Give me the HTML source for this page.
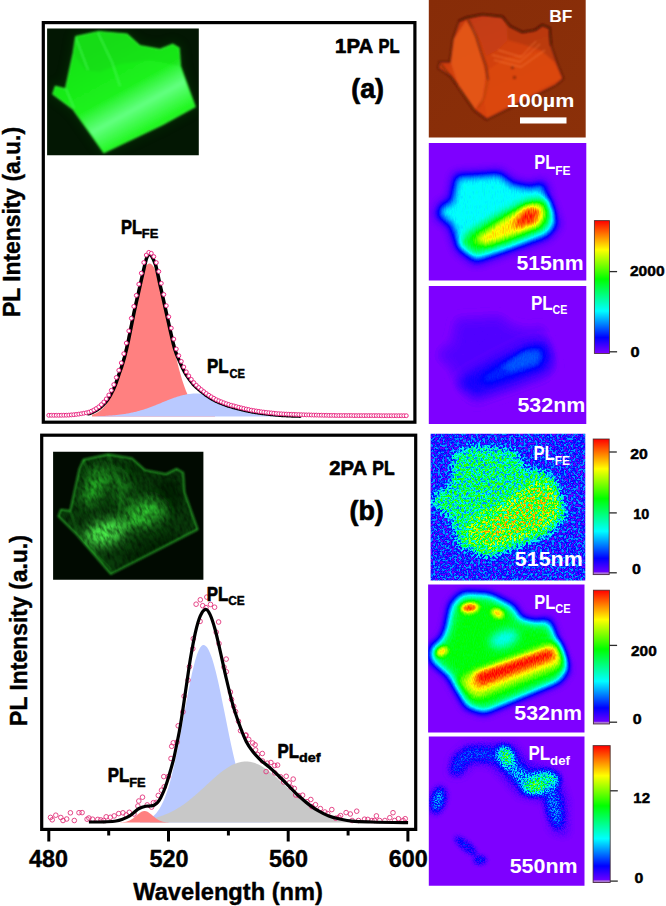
<!DOCTYPE html>
<html><head><meta charset="utf-8"><title>PL figure</title>
<style>html,body{margin:0;padding:0;background:#fff;}body{width:666px;height:906px;overflow:hidden;font-family:"Liberation Sans",sans-serif;}svg{display:block;}</style>
</head><body>
<svg width="666" height="906" viewBox="0 0 666 906" font-family="Liberation Sans, sans-serif">
<rect x="0" y="0" width="666" height="906" fill="#fff"/>
<defs><filter id="pb1_5" x="-50%" y="-50%" width="200%" height="200%" color-interpolation-filters="sRGB"><feGaussianBlur stdDeviation="1.5"/></filter>
<filter id="pb2" x="-50%" y="-50%" width="200%" height="200%" color-interpolation-filters="sRGB"><feGaussianBlur stdDeviation="2"/></filter>
<filter id="pb2_5" x="-50%" y="-50%" width="200%" height="200%" color-interpolation-filters="sRGB"><feGaussianBlur stdDeviation="2.5"/></filter>
<filter id="pb3" x="-50%" y="-50%" width="200%" height="200%" color-interpolation-filters="sRGB"><feGaussianBlur stdDeviation="3"/></filter>
<filter id="pb3_5" x="-50%" y="-50%" width="200%" height="200%" color-interpolation-filters="sRGB"><feGaussianBlur stdDeviation="3.5"/></filter>
<filter id="pb4" x="-50%" y="-50%" width="200%" height="200%" color-interpolation-filters="sRGB"><feGaussianBlur stdDeviation="4"/></filter>
<filter id="pb5" x="-50%" y="-50%" width="200%" height="200%" color-interpolation-filters="sRGB"><feGaussianBlur stdDeviation="5"/></filter>
<filter id="pb6" x="-50%" y="-50%" width="200%" height="200%" color-interpolation-filters="sRGB"><feGaussianBlur stdDeviation="6"/></filter>
<filter id="pb8" x="-50%" y="-50%" width="200%" height="200%" color-interpolation-filters="sRGB"><feGaussianBlur stdDeviation="8"/></filter>
<clipPath id="cp2"><rect x="428.8" y="143" width="157.5" height="137.5"/></clipPath>
<filter id="hf2" filterUnits="userSpaceOnUse" x="398.8" y="113" width="217.5" height="197.5" color-interpolation-filters="sRGB"><feGaussianBlur in="SourceGraphic" stdDeviation="0.6" result="b"/><feTurbulence type="fractalNoise" baseFrequency="0.9 0.2" numOctaves="1" seed="4" result="t"/><feColorMatrix in="t" type="matrix" values="1 0 0 0 0  1 0 0 0 0  1 0 0 0 0  0 0 0 0 1" result="g"/><feComponentTransfer in="g" result="n"><feFuncR type="linear" slope="2.0" intercept="-0.5"/><feFuncG type="linear" slope="2.0" intercept="-0.5"/><feFuncB type="linear" slope="2.0" intercept="-0.5"/></feComponentTransfer><feComposite in="b" in2="n" operator="arithmetic" k1="0.09" k2="0.955" k3="0" k4="0" result="c"/><feComponentTransfer><feFuncR type="table" tableValues="0.498 0.415 0.332 0.249 0.166 0.083 0.000 0.000 0.000 0.000 0.000 0.000 0.000 0.000 0.000 0.000 0.000 0.000 0.000 0.000 0.000 0.000 0.000 0.000 0.000 0.000 0.000 0.000 0.000 0.091 0.182 0.273 0.364 0.455 0.545 0.636 0.727 0.818 0.909 1.000 1.000 1.000 1.000 1.000 1.000 1.000 1.000 1.000 1.000 1.000 1.000"/><feFuncG type="table" tableValues="0.000 0.000 0.000 0.000 0.000 0.000 0.000 0.100 0.200 0.300 0.400 0.500 0.600 0.700 0.800 0.900 1.000 1.000 1.000 1.000 1.000 1.000 1.000 1.000 1.000 1.000 1.000 1.000 1.000 1.000 1.000 1.000 1.000 1.000 1.000 1.000 1.000 1.000 1.000 1.000 0.909 0.818 0.727 0.636 0.545 0.455 0.364 0.273 0.182 0.091 0.000"/><feFuncB type="table" tableValues="1.000 1.000 1.000 1.000 1.000 1.000 1.000 1.000 1.000 1.000 1.000 1.000 1.000 1.000 1.000 1.000 1.000 0.917 0.833 0.750 0.667 0.583 0.500 0.417 0.333 0.250 0.167 0.083 0.000 0.000 0.000 0.000 0.000 0.000 0.000 0.000 0.000 0.000 0.000 0.000 0.000 0.000 0.000 0.000 0.000 0.000 0.000 0.000 0.000 0.000 0.000"/></feComponentTransfer></filter>
<clipPath id="cp3"><rect x="428.8" y="286" width="157.5" height="138.1"/></clipPath>
<filter id="hf3" filterUnits="userSpaceOnUse" x="398.8" y="256" width="217.5" height="198.1" color-interpolation-filters="sRGB"><feGaussianBlur in="SourceGraphic" stdDeviation="0.6" result="b"/><feTurbulence type="fractalNoise" baseFrequency="0.9 0.3" numOctaves="1" seed="14" result="t"/><feColorMatrix in="t" type="matrix" values="1 0 0 0 0  1 0 0 0 0  1 0 0 0 0  0 0 0 0 1" result="g"/><feComponentTransfer in="g" result="n"><feFuncR type="linear" slope="2.0" intercept="-0.5"/><feFuncG type="linear" slope="2.0" intercept="-0.5"/><feFuncB type="linear" slope="2.0" intercept="-0.5"/></feComponentTransfer><feComposite in="b" in2="n" operator="arithmetic" k1="0.1" k2="0.95" k3="0" k4="0" result="c"/><feComponentTransfer><feFuncR type="table" tableValues="0.498 0.415 0.332 0.249 0.166 0.083 0.000 0.000 0.000 0.000 0.000 0.000 0.000 0.000 0.000 0.000 0.000 0.000 0.000 0.000 0.000 0.000 0.000 0.000 0.000 0.000 0.000 0.000 0.000 0.091 0.182 0.273 0.364 0.455 0.545 0.636 0.727 0.818 0.909 1.000 1.000 1.000 1.000 1.000 1.000 1.000 1.000 1.000 1.000 1.000 1.000"/><feFuncG type="table" tableValues="0.000 0.000 0.000 0.000 0.000 0.000 0.000 0.100 0.200 0.300 0.400 0.500 0.600 0.700 0.800 0.900 1.000 1.000 1.000 1.000 1.000 1.000 1.000 1.000 1.000 1.000 1.000 1.000 1.000 1.000 1.000 1.000 1.000 1.000 1.000 1.000 1.000 1.000 1.000 1.000 0.909 0.818 0.727 0.636 0.545 0.455 0.364 0.273 0.182 0.091 0.000"/><feFuncB type="table" tableValues="1.000 1.000 1.000 1.000 1.000 1.000 1.000 1.000 1.000 1.000 1.000 1.000 1.000 1.000 1.000 1.000 1.000 0.917 0.833 0.750 0.667 0.583 0.500 0.417 0.333 0.250 0.167 0.083 0.000 0.000 0.000 0.000 0.000 0.000 0.000 0.000 0.000 0.000 0.000 0.000 0.000 0.000 0.000 0.000 0.000 0.000 0.000 0.000 0.000 0.000 0.000"/></feComponentTransfer></filter>
<clipPath id="cp4"><rect x="430.6" y="433.8" width="154.7" height="146.8"/></clipPath>
<filter id="hf4" filterUnits="userSpaceOnUse" x="400.6" y="403.8" width="214.7" height="206.8" color-interpolation-filters="sRGB"><feGaussianBlur in="SourceGraphic" stdDeviation="0.5" result="b"/><feTurbulence type="fractalNoise" baseFrequency="0.42" numOctaves="2" seed="9" result="t"/><feColorMatrix in="t" type="matrix" values="1 0 0 0 0  1 0 0 0 0  1 0 0 0 0  0 0 0 0 1" result="g"/><feComponentTransfer in="g" result="n"><feFuncR type="linear" slope="3.4" intercept="-1.2"/><feFuncG type="linear" slope="3.4" intercept="-1.2"/><feFuncB type="linear" slope="3.4" intercept="-1.2"/></feComponentTransfer><feComposite in="b" in2="n" operator="arithmetic" k1="0.58" k2="0.76" k3="0.15" k4="-0.075" result="c"/><feGaussianBlur in="c" stdDeviation="0.4"/><feComponentTransfer><feFuncR type="table" tableValues="0.498 0.415 0.332 0.249 0.166 0.083 0.000 0.000 0.000 0.000 0.000 0.000 0.000 0.000 0.000 0.000 0.000 0.000 0.000 0.000 0.000 0.000 0.000 0.000 0.000 0.000 0.000 0.000 0.000 0.091 0.182 0.273 0.364 0.455 0.545 0.636 0.727 0.818 0.909 1.000 1.000 1.000 1.000 1.000 1.000 1.000 1.000 1.000 1.000 1.000 1.000"/><feFuncG type="table" tableValues="0.000 0.000 0.000 0.000 0.000 0.000 0.000 0.100 0.200 0.300 0.400 0.500 0.600 0.700 0.800 0.900 1.000 1.000 1.000 1.000 1.000 1.000 1.000 1.000 1.000 1.000 1.000 1.000 1.000 1.000 1.000 1.000 1.000 1.000 1.000 1.000 1.000 1.000 1.000 1.000 0.909 0.818 0.727 0.636 0.545 0.455 0.364 0.273 0.182 0.091 0.000"/><feFuncB type="table" tableValues="1.000 1.000 1.000 1.000 1.000 1.000 1.000 1.000 1.000 1.000 1.000 1.000 1.000 1.000 1.000 1.000 1.000 0.917 0.833 0.750 0.667 0.583 0.500 0.417 0.333 0.250 0.167 0.083 0.000 0.000 0.000 0.000 0.000 0.000 0.000 0.000 0.000 0.000 0.000 0.000 0.000 0.000 0.000 0.000 0.000 0.000 0.000 0.000 0.000 0.000 0.000"/></feComponentTransfer></filter>
<clipPath id="cp5"><rect x="428.1" y="584.6" width="156.4" height="147.8"/></clipPath>
<filter id="hf5" filterUnits="userSpaceOnUse" x="398.1" y="554.6" width="216.4" height="207.8" color-interpolation-filters="sRGB"><feGaussianBlur in="SourceGraphic" stdDeviation="0.6" result="b"/><feTurbulence type="fractalNoise" baseFrequency="0.9 0.35" numOctaves="1" seed="5" result="t"/><feColorMatrix in="t" type="matrix" values="1 0 0 0 0  1 0 0 0 0  1 0 0 0 0  0 0 0 0 1" result="g"/><feComponentTransfer in="g" result="n"><feFuncR type="linear" slope="2.0" intercept="-0.5"/><feFuncG type="linear" slope="2.0" intercept="-0.5"/><feFuncB type="linear" slope="2.0" intercept="-0.5"/></feComponentTransfer><feComposite in="b" in2="n" operator="arithmetic" k1="0.08" k2="0.96" k3="0" k4="0" result="c"/><feComponentTransfer><feFuncR type="table" tableValues="0.498 0.415 0.332 0.249 0.166 0.083 0.000 0.000 0.000 0.000 0.000 0.000 0.000 0.000 0.000 0.000 0.000 0.000 0.000 0.000 0.000 0.000 0.000 0.000 0.000 0.000 0.000 0.000 0.000 0.091 0.182 0.273 0.364 0.455 0.545 0.636 0.727 0.818 0.909 1.000 1.000 1.000 1.000 1.000 1.000 1.000 1.000 1.000 1.000 1.000 1.000"/><feFuncG type="table" tableValues="0.000 0.000 0.000 0.000 0.000 0.000 0.000 0.100 0.200 0.300 0.400 0.500 0.600 0.700 0.800 0.900 1.000 1.000 1.000 1.000 1.000 1.000 1.000 1.000 1.000 1.000 1.000 1.000 1.000 1.000 1.000 1.000 1.000 1.000 1.000 1.000 1.000 1.000 1.000 1.000 0.909 0.818 0.727 0.636 0.545 0.455 0.364 0.273 0.182 0.091 0.000"/><feFuncB type="table" tableValues="1.000 1.000 1.000 1.000 1.000 1.000 1.000 1.000 1.000 1.000 1.000 1.000 1.000 1.000 1.000 1.000 1.000 0.917 0.833 0.750 0.667 0.583 0.500 0.417 0.333 0.250 0.167 0.083 0.000 0.000 0.000 0.000 0.000 0.000 0.000 0.000 0.000 0.000 0.000 0.000 0.000 0.000 0.000 0.000 0.000 0.000 0.000 0.000 0.000 0.000 0.000"/></feComponentTransfer></filter>
<clipPath id="cp6"><rect x="428.8" y="736.4" width="155.7" height="149.3"/></clipPath>
<filter id="hf6" filterUnits="userSpaceOnUse" x="398.8" y="706.4" width="215.7" height="209.3" color-interpolation-filters="sRGB"><feGaussianBlur in="SourceGraphic" stdDeviation="0.4" result="b"/><feTurbulence type="fractalNoise" baseFrequency="0.7" numOctaves="2" seed="21" result="t"/><feColorMatrix in="t" type="matrix" values="1 0 0 0 0  1 0 0 0 0  1 0 0 0 0  0 0 0 0 1" result="g"/><feComponentTransfer in="g" result="n"><feFuncR type="linear" slope="3.4" intercept="-1.2"/><feFuncG type="linear" slope="3.4" intercept="-1.2"/><feFuncB type="linear" slope="3.4" intercept="-1.2"/></feComponentTransfer><feComposite in="b" in2="n" operator="arithmetic" k1="0.9" k2="0.55" k3="0" k4="0" result="c"/><feGaussianBlur in="c" stdDeviation="0.45"/><feComponentTransfer><feFuncR type="table" tableValues="0.498 0.415 0.332 0.249 0.166 0.083 0.000 0.000 0.000 0.000 0.000 0.000 0.000 0.000 0.000 0.000 0.000 0.000 0.000 0.000 0.000 0.000 0.000 0.000 0.000 0.000 0.000 0.000 0.000 0.091 0.182 0.273 0.364 0.455 0.545 0.636 0.727 0.818 0.909 1.000 1.000 1.000 1.000 1.000 1.000 1.000 1.000 1.000 1.000 1.000 1.000"/><feFuncG type="table" tableValues="0.000 0.000 0.000 0.000 0.000 0.000 0.000 0.100 0.200 0.300 0.400 0.500 0.600 0.700 0.800 0.900 1.000 1.000 1.000 1.000 1.000 1.000 1.000 1.000 1.000 1.000 1.000 1.000 1.000 1.000 1.000 1.000 1.000 1.000 1.000 1.000 1.000 1.000 1.000 1.000 0.909 0.818 0.727 0.636 0.545 0.455 0.364 0.273 0.182 0.091 0.000"/><feFuncB type="table" tableValues="1.000 1.000 1.000 1.000 1.000 1.000 1.000 1.000 1.000 1.000 1.000 1.000 1.000 1.000 1.000 1.000 1.000 0.917 0.833 0.750 0.667 0.583 0.500 0.417 0.333 0.250 0.167 0.083 0.000 0.000 0.000 0.000 0.000 0.000 0.000 0.000 0.000 0.000 0.000 0.000 0.000 0.000 0.000 0.000 0.000 0.000 0.000 0.000 0.000 0.000 0.000"/></feComponentTransfer></filter>
<linearGradient id="rb" x1="0" y1="1" x2="0" y2="0"><stop offset="0.0" stop-color="rgb(127,0,255)"/><stop offset="0.12" stop-color="rgb(0,0,255)"/><stop offset="0.32" stop-color="rgb(0,255,255)"/><stop offset="0.56" stop-color="rgb(0,255,0)"/><stop offset="0.78" stop-color="rgb(255,255,0)"/><stop offset="1.0" stop-color="rgb(255,0,0)"/></linearGradient><clipPath id="cpBF"><rect x="428.8" y="0" width="156.9" height="137.6"/></clipPath>
<filter id="blBF" x="-10%" y="-10%" width="120%" height="120%"><feGaussianBlur stdDeviation="0.9"/></filter>
<filter id="blBF2" x="-20%" y="-20%" width="140%" height="140%"><feGaussianBlur stdDeviation="2.2"/></filter>
<linearGradient id="gBFbg" x1="0" y1="0" x2="1" y2="1"><stop offset="0" stop-color="#872c08"/><stop offset="1" stop-color="#8b3009"/></linearGradient>
<linearGradient id="gBFc" x1="0.1" y1="0" x2="0.6" y2="1"><stop offset="0" stop-color="#c43a10"/><stop offset="0.5" stop-color="#d24010"/><stop offset="1" stop-color="#d84410"/></linearGradient>
<clipPath id="cpIA"><rect x="47.1" y="28.4" width="151.7" height="126.9"/></clipPath>
<filter id="blG" x="-10%" y="-10%" width="120%" height="120%"><feGaussianBlur stdDeviation="0.8"/></filter>
<filter id="blG2" x="-30%" y="-30%" width="160%" height="160%"><feGaussianBlur stdDeviation="5"/></filter>
<linearGradient id="gIA" gradientUnits="userSpaceOnUse" x1="95" y1="50" x2="150" y2="150"><stop offset="0" stop-color="#14e414"/><stop offset="0.42" stop-color="#1cf21c"/><stop offset="0.62" stop-color="#62ff80"/><stop offset="0.82" stop-color="#24f824"/><stop offset="1" stop-color="#1cec1c"/></linearGradient>
<clipPath id="cpIB"><rect x="53.1" y="451.8" width="150.3" height="128"/></clipPath>
<filter id="blH" x="-30%" y="-30%" width="160%" height="160%"><feGaussianBlur stdDeviation="6"/></filter>
<filter id="txH" x="0" y="0" width="100%" height="100%" color-interpolation-filters="sRGB"><feTurbulence type="fractalNoise" baseFrequency="0.34 0.14" numOctaves="2" seed="8"/><feColorMatrix type="matrix" values="0 0 0 0 0  0 0 0 0 0.03  0 0 0 0 0  1.3 0 0 0 -0.45"/><feGaussianBlur stdDeviation="0.6"/></filter>
<filter id="blH2" x="-10%" y="-10%" width="120%" height="120%"><feGaussianBlur stdDeviation="0.9"/></filter>
<clipPath id="cpIBc"><polygon points="83.4,459.7 108.3,454.5 132.0,458.4 145.1,470.2 166.1,474.2 176.6,468.9 183.2,472.8 184.5,492.5 197.6,529.3 110.9,574.0 76.8,534.6 58.4,516.2 61.0,509.6 70.2,510.9 79.4,468.9"/></clipPath></defs>
<g id="chartA">
<g clip-path="url(#cpIA)">
<rect x="46" y="27" width="154" height="130" fill="#031703"/>
<g filter="url(#blG2)" opacity="0.18"><polygon points="75.7,36.6 98.7,31.5 126.8,34.0 139.5,45.5 160.0,49.4 172.7,44.2 179.1,48.1 180.4,65.9 195.2,106.8 162.5,124.6 103.8,152.7 73.2,109.3 52.8,94.0 55.3,86.4 65.5,88.9 73.2,53.2" fill="#0a6a0a" stroke="#0a6a0a" stroke-width="8"/></g>
<g filter="url(#blG)">
<polygon points="75.7,36.6 98.7,31.5 126.8,34.0 139.5,45.5 160.0,49.4 172.7,44.2 179.1,48.1 180.4,65.9 195.2,106.8 162.5,124.6 103.8,152.7 73.2,109.3 52.8,94.0 55.3,86.4 65.5,88.9 73.2,53.2" fill="url(#gIA)" stroke="#30f030" stroke-width="1.2" stroke-linejoin="round"/>
<polygon points="76.0,37.5 98.7,32.5 126.0,35.0 139.0,46.5 160.0,50.4 172.7,45.2 178.5,49.0 179.5,66.0 150.0,60.0 120.0,64.0 100.0,72.0 85.0,70.0 73.8,54.0" fill="#10c010" opacity="0.2"/>
<path d="M98,33 L112,62 L120,86 M76,38 L88,70 M66,89 L74,108" fill="none" stroke="#50ff60" stroke-width="1.2" opacity="0.7"/>
</g>
</g>
<path d="M92.0,416.5 L92.0,414.7 L93.0,414.4 L94.0,414.1 L95.0,413.7 L96.0,413.2 L97.0,412.7 L98.0,412.1 L99.0,411.5 L100.0,410.8 L101.0,410.0 L102.0,409.1 L103.0,408.1 L104.0,407.0 L105.0,405.8 L106.0,404.4 L107.0,403.0 L108.0,401.3 L109.0,399.6 L110.0,397.7 L111.0,395.6 L112.0,393.3 L113.0,390.9 L114.0,388.3 L115.0,385.5 L116.0,382.6 L117.0,379.4 L118.0,376.1 L119.0,372.6 L120.0,368.9 L121.0,365.1 L122.0,361.1 L123.0,356.9 L124.0,352.6 L125.0,348.1 L126.0,343.6 L127.0,339.0 L128.0,334.2 L129.0,329.5 L130.0,324.7 L131.0,319.9 L132.0,315.1 L133.0,310.3 L134.0,305.7 L135.0,301.1 L136.0,296.7 L137.0,292.4 L138.0,288.4 L139.0,284.5 L140.0,281.0 L141.0,277.6 L142.0,274.6 L143.0,271.9 L144.0,269.6 L145.0,267.6 L146.0,266.0 L147.0,264.8 L148.0,264.0 L149.0,263.6 L150.0,263.6 L151.0,264.0 L152.0,264.8 L153.0,266.0 L154.0,267.6 L155.0,269.6 L156.0,271.9 L157.0,274.6 L158.0,277.6 L159.0,281.0 L160.0,284.5 L161.0,288.4 L162.0,292.4 L163.0,296.7 L164.0,301.1 L165.0,305.7 L166.0,310.3 L167.0,315.1 L168.0,319.9 L169.0,324.7 L170.0,329.5 L171.0,334.2 L172.0,339.0 L173.0,343.6 L174.0,348.1 L175.0,352.6 L176.0,356.9 L177.0,361.1 L178.0,365.1 L179.0,368.9 L180.0,372.6 L181.0,376.1 L182.0,379.4 L183.0,382.6 L184.0,385.5 L185.0,388.3 L186.0,390.9 L187.0,393.3 L188.0,395.6 L189.0,397.7 L190.0,399.6 L191.0,401.3 L192.0,403.0 L193.0,404.4 L194.0,405.8 L195.0,407.0 L196.0,408.1 L197.0,409.1 L198.0,410.0 L199.0,410.8 L200.0,411.5 L201.0,412.1 L202.0,412.7 L203.0,413.2 L204.0,413.7 L205.0,414.1 L206.0,414.4 L207.0,414.7 L208.0,415.0 L209.0,415.2 L210.0,415.4 L211.0,415.5 L212.0,415.7 L213.0,415.8 L214.0,415.9 L215.0,416.0 L215.0,416.5 Z" fill="#ff8080"/>
<path d="M96.0,416.5 L96.0,416.2 L97.0,416.2 L98.0,416.1 L99.0,416.1 L100.0,416.1 L101.0,416.0 L102.0,416.0 L103.0,416.0 L104.0,415.9 L105.0,415.9 L106.0,415.8 L107.0,415.8 L108.0,415.7 L109.0,415.6 L110.0,415.6 L111.0,415.5 L112.0,415.4 L113.0,415.3 L114.0,415.2 L115.0,415.2 L116.0,415.1 L117.0,415.0 L118.0,414.8 L119.0,414.7 L120.0,414.6 L121.0,414.5 L122.0,414.3 L123.0,414.2 L124.0,414.1 L125.0,413.9 L126.0,413.7 L127.0,413.6 L128.0,413.4 L129.0,413.2 L130.0,413.0 L131.0,412.8 L132.0,412.6 L133.0,412.4 L134.0,412.1 L135.0,411.9 L136.0,411.7 L137.0,411.4 L138.0,411.1 L139.0,410.9 L140.0,410.6 L141.0,410.3 L142.0,410.0 L143.0,409.7 L144.0,409.4 L145.0,409.0 L146.0,408.7 L147.0,408.4 L148.0,408.0 L149.0,407.7 L150.0,407.3 L151.0,406.9 L152.0,406.5 L153.0,406.2 L154.0,405.8 L155.0,405.4 L156.0,405.0 L157.0,404.6 L158.0,404.2 L159.0,403.8 L160.0,403.4 L161.0,403.0 L162.0,402.5 L163.0,402.1 L164.0,401.7 L165.0,401.3 L166.0,400.9 L167.0,400.5 L168.0,400.1 L169.0,399.7 L170.0,399.3 L171.0,398.9 L172.0,398.6 L173.0,398.2 L174.0,397.8 L175.0,397.5 L176.0,397.2 L177.0,396.8 L178.0,396.5 L179.0,396.2 L180.0,395.9 L181.0,395.6 L182.0,395.4 L183.0,395.1 L184.0,394.9 L185.0,394.7 L186.0,394.5 L187.0,394.3 L188.0,394.1 L189.0,394.0 L190.0,393.9 L191.0,393.7 L192.0,393.7 L193.0,393.6 L194.0,393.5 L195.0,393.5 L196.0,393.5 L197.0,393.5 L198.0,393.6 L199.0,393.6 L200.0,393.7 L201.0,393.8 L202.0,394.0 L203.0,394.1 L204.0,394.3 L205.0,394.5 L206.0,394.7 L207.0,395.0 L208.0,395.3 L209.0,395.6 L210.0,395.9 L211.0,396.2 L212.0,396.5 L213.0,396.9 L214.0,397.3 L215.0,402.1 L216.0,402.5 L217.0,402.9 L218.0,403.3 L219.0,403.7 L220.0,404.1 L221.0,404.5 L222.0,404.8 L223.0,405.2 L224.0,405.5 L225.0,405.9 L226.0,406.2 L227.0,406.6 L228.0,406.9 L229.0,407.2 L230.0,407.5 L231.0,407.8 L232.0,408.1 L233.0,408.3 L234.0,408.6 L235.0,408.9 L236.0,409.1 L237.0,409.4 L238.0,409.7 L239.0,409.9 L240.0,410.2 L241.0,410.4 L242.0,410.7 L243.0,410.9 L244.0,411.1 L245.0,411.4 L246.0,411.6 L247.0,411.9 L248.0,412.1 L249.0,412.3 L250.0,412.5 L251.0,412.7 L252.0,412.9 L253.0,413.1 L254.0,413.3 L255.0,413.4 L256.0,413.6 L257.0,413.8 L258.0,413.9 L259.0,414.1 L260.0,414.2 L261.0,414.3 L262.0,414.5 L263.0,414.6 L264.0,414.7 L265.0,414.8 L266.0,415.0 L267.0,415.1 L268.0,415.2 L269.0,415.3 L270.0,415.4 L271.0,415.5 L272.0,415.6 L273.0,415.7 L274.0,415.8 L275.0,415.9 L276.0,416.0 L277.0,416.1 L278.0,416.2 L279.0,416.3 L280.0,416.3 L281.0,416.4 L282.0,416.5 L283.0,416.5 L284.0,416.5 L285.0,416.5 L286.0,416.5 L287.0,416.5 L288.0,416.5 L289.0,416.5 L290.0,416.5 L291.0,416.5 L292.0,416.5 L293.0,416.5 L294.0,416.5 L295.0,416.5 L296.0,416.5 L297.0,416.5 L298.0,416.5 L299.0,416.5 L300.0,416.5 L300.0,416.5 Z" fill="#b9c9ff"/>
<path d="M88.4,413.8 L89.4,413.6 L90.5,413.2 L91.6,412.7 L92.6,412.3 L93.7,411.7 L94.7,411.2 L95.7,410.6 L96.8,410.0 L97.8,409.3 L98.9,408.6 L99.9,407.8 L101.0,406.9 L102.0,406.0 L103.1,405.0 L104.1,403.9 L105.1,402.8 L106.2,401.5 L107.2,400.2 L108.2,398.7 L109.3,397.1 L110.3,395.4 L111.3,393.5 L112.3,391.5 L113.4,389.4 L114.4,387.1 L115.4,384.6 L116.4,381.8 L117.4,378.9 L118.4,375.9 L119.4,373.0 L120.4,370.2 L121.4,367.4 L122.4,364.3 L123.4,360.9 L124.5,357.2 L125.5,353.2 L126.5,349.1 L127.5,344.7 L128.5,340.1 L129.5,335.2 L130.5,330.2 L131.5,325.2 L132.5,320.1 L133.5,315.2 L134.5,310.4 L135.5,305.9 L136.5,301.4 L137.5,297.0 L138.5,292.6 L139.5,288.1 L140.5,283.6 L141.5,279.2 L142.5,274.8 L143.5,270.5 L144.5,266.2 L145.5,262.1 L146.4,258.6 L147.3,256.3 L148.2,254.9 L149.0,254.0 L149.3,253.8 L149.5,253.8 L150.1,254.2 L150.9,255.0 L151.8,256.1 L152.6,257.7 L153.6,259.9 L154.6,262.3 L155.6,265.0 L156.5,268.4 L157.5,272.8 L158.5,277.7 L159.5,282.3 L160.5,286.8 L161.5,291.2 L162.5,295.7 L163.5,300.2 L164.5,304.6 L165.5,309.1 L166.5,313.6 L167.5,318.1 L168.5,322.6 L169.5,327.1 L170.5,331.6 L171.5,335.9 L172.5,340.3 L173.5,344.6 L174.6,348.4 L175.6,351.6 L176.6,354.3 L177.6,356.8 L178.6,359.1 L179.6,361.3 L180.6,363.6 L181.6,365.9 L182.6,368.1 L183.7,370.2 L184.7,372.1 L185.7,373.9 L186.7,375.5 L187.8,377.0 L188.8,378.5 L189.8,379.9 L190.8,381.2 L191.8,382.5 L192.8,383.8 L193.9,385.0 L195.0,386.1 L196.0,387.1 L197.0,387.9 L198.0,388.8 L199.0,389.7 L200.0,390.5 L201.1,391.3 L202.1,392.1 L203.1,392.9 L204.1,393.7 L205.1,394.5 L206.1,395.2 L207.2,395.9 L208.2,396.6 L209.2,397.3 L210.2,397.9 L211.2,398.6 L212.2,399.2 L213.3,399.7 L214.3,400.3 L215.3,400.8 L216.4,401.3 L217.4,401.8 L218.4,402.3 L219.4,402.7 L220.5,403.1 L221.5,403.5 L222.5,403.9 L223.5,404.2 L224.5,404.6 L225.5,405.0 L226.5,405.3 L227.5,405.7 L228.5,406.0 L229.6,406.3 L230.6,406.6 L231.6,406.9 L232.6,407.2 L233.6,407.5 L234.6,407.7 L235.6,408.0 L236.6,408.2 L237.6,408.5 L238.6,408.8 L239.6,409.0 L240.6,409.3 L241.6,409.5 L242.6,409.8 L243.6,410.0 L244.7,410.2 L245.7,410.5 L246.7,410.7 L247.7,410.9 L248.7,411.2 L249.7,411.4 L250.7,411.6 L251.7,411.8 L252.7,412.0 L253.7,412.1 L254.8,412.3 L255.8,412.5 L256.8,412.6 L257.8,412.8 L258.8,412.9 L259.8,413.1 L260.8,413.2 L261.8,413.4 L262.8,413.5 L263.8,413.6 L264.8,413.7 L265.8,413.8 L266.8,414.0 L267.8,414.1 L268.8,414.2 L269.8,414.3 L270.8,414.4 L271.8,414.5 L272.8,414.6 L273.8,414.7 L274.9,414.8 L275.9,414.9 L276.9,415.0 L277.9,415.1 L278.9,415.2 L279.9,415.2 L280.9,415.3 L281.9,415.4 L282.9,415.4 L283.9,415.5 L284.9,415.6 L285.9,415.6 L286.9,415.7 L287.9,415.7 L288.9,415.7 L289.9,415.8 L290.9,415.8 L291.9,415.9 L292.9,415.9 L293.9,416.0 L294.9,416.0 L295.9,416.0 L296.9,416.1 L297.9,416.1 L298.9,416.1 L299.9,416.2" fill="none" stroke="#000" stroke-width="3.5" stroke-linejoin="round" stroke-linecap="round"/>
<g fill="#fff" stroke="#e8207c" stroke-width="0.95">
<circle cx="48.8" cy="415.3" r="1.95"/>
<circle cx="51.3" cy="415.3" r="1.95"/>
<circle cx="53.8" cy="415.3" r="1.95"/>
<circle cx="56.3" cy="415.3" r="1.95"/>
<circle cx="58.8" cy="415.3" r="1.95"/>
<circle cx="61.3" cy="415.3" r="1.95"/>
<circle cx="63.8" cy="415.2" r="1.95"/>
<circle cx="66.3" cy="415.2" r="1.95"/>
<circle cx="68.8" cy="415.1" r="1.95"/>
<circle cx="71.3" cy="414.9" r="1.95"/>
<circle cx="73.8" cy="414.7" r="1.95"/>
<circle cx="76.3" cy="414.4" r="1.95"/>
<circle cx="78.8" cy="414.1" r="1.95"/>
<circle cx="81.3" cy="413.7" r="1.95"/>
<circle cx="83.8" cy="413.2" r="1.95"/>
<circle cx="86.3" cy="412.8" r="1.95"/>
<circle cx="88.8" cy="412.2" r="1.95"/>
<circle cx="91.3" cy="411.2" r="1.95"/>
<circle cx="93.8" cy="410.0" r="1.95"/>
<circle cx="96.3" cy="408.5" r="1.95"/>
<circle cx="98.8" cy="406.8" r="1.95"/>
<circle cx="101.3" cy="404.6" r="1.95"/>
<circle cx="103.8" cy="402.0" r="1.95"/>
<circle cx="106.3" cy="398.9" r="1.95"/>
<circle cx="108.8" cy="395.0" r="1.95"/>
<circle cx="111.3" cy="390.3" r="1.95"/>
<circle cx="113.8" cy="384.6" r="1.95"/>
<circle cx="116.3" cy="377.5" r="1.95"/>
<circle cx="118.8" cy="370.3" r="1.95"/>
<circle cx="121.3" cy="362.9" r="1.95"/>
<circle cx="123.8" cy="353.7" r="1.95"/>
<circle cx="126.3" cy="343.1" r="1.95"/>
<circle cx="128.8" cy="330.9" r="1.95"/>
<circle cx="131.3" cy="318.3" r="1.95"/>
<circle cx="133.8" cy="306.4" r="1.95"/>
<circle cx="136.3" cy="295.4" r="1.95"/>
<circle cx="138.8" cy="284.2" r="1.95"/>
<circle cx="141.3" cy="273.2" r="1.95"/>
<circle cx="143.8" cy="262.5" r="1.95"/>
<circle cx="146.3" cy="255.1" r="1.95"/>
<circle cx="148.8" cy="252.4" r="1.95"/>
<circle cx="151.3" cy="253.3" r="1.95"/>
<circle cx="153.8" cy="256.6" r="1.95"/>
<circle cx="156.3" cy="262.6" r="1.95"/>
<circle cx="158.8" cy="271.5" r="1.95"/>
<circle cx="161.3" cy="283.3" r="1.95"/>
<circle cx="163.8" cy="294.5" r="1.95"/>
<circle cx="166.3" cy="305.7" r="1.95"/>
<circle cx="168.8" cy="316.8" r="1.95"/>
<circle cx="171.3" cy="328.1" r="1.95"/>
<circle cx="173.8" cy="339.1" r="1.95"/>
<circle cx="176.3" cy="349.0" r="1.95"/>
<circle cx="178.8" cy="355.7" r="1.95"/>
<circle cx="181.3" cy="361.4" r="1.95"/>
<circle cx="183.8" cy="367.0" r="1.95"/>
<circle cx="186.3" cy="371.9" r="1.95"/>
<circle cx="188.8" cy="375.9" r="1.95"/>
<circle cx="191.3" cy="379.4" r="1.95"/>
<circle cx="193.8" cy="382.6" r="1.95"/>
<circle cx="196.3" cy="385.3" r="1.95"/>
<circle cx="198.8" cy="387.5" r="1.95"/>
<circle cx="201.3" cy="389.6" r="1.95"/>
<circle cx="203.8" cy="391.6" r="1.95"/>
<circle cx="206.3" cy="393.5" r="1.95"/>
<circle cx="208.8" cy="395.2" r="1.95"/>
<circle cx="211.3" cy="396.8" r="1.95"/>
<circle cx="213.8" cy="398.3" r="1.95"/>
<circle cx="216.3" cy="399.7" r="1.95"/>
<circle cx="218.8" cy="400.8" r="1.95"/>
<circle cx="221.3" cy="401.8" r="1.95"/>
<circle cx="223.8" cy="402.8" r="1.95"/>
<circle cx="226.3" cy="403.7" r="1.95"/>
<circle cx="228.8" cy="404.5" r="1.95"/>
<circle cx="231.3" cy="405.3" r="1.95"/>
<circle cx="233.8" cy="405.9" r="1.95"/>
<circle cx="236.3" cy="406.6" r="1.95"/>
<circle cx="238.8" cy="407.3" r="1.95"/>
<circle cx="241.3" cy="407.9" r="1.95"/>
<circle cx="243.8" cy="408.5" r="1.95"/>
<circle cx="246.3" cy="409.1" r="1.95"/>
<circle cx="248.8" cy="409.6" r="1.95"/>
<circle cx="251.3" cy="410.2" r="1.95"/>
<circle cx="253.8" cy="410.6" r="1.95"/>
<circle cx="256.3" cy="411.0" r="1.95"/>
<circle cx="258.8" cy="411.4" r="1.95"/>
<circle cx="261.3" cy="411.8" r="1.95"/>
<circle cx="263.8" cy="412.1" r="1.95"/>
<circle cx="266.3" cy="412.4" r="1.95"/>
<circle cx="268.8" cy="412.7" r="1.95"/>
<circle cx="271.3" cy="412.9" r="1.95"/>
<circle cx="273.8" cy="413.2" r="1.95"/>
<circle cx="276.3" cy="413.5" r="1.95"/>
<circle cx="278.8" cy="413.7" r="1.95"/>
<circle cx="281.3" cy="413.8" r="1.95"/>
<circle cx="283.8" cy="414.0" r="1.95"/>
<circle cx="286.3" cy="414.1" r="1.95"/>
<circle cx="288.8" cy="414.2" r="1.95"/>
<circle cx="291.3" cy="414.3" r="1.95"/>
<circle cx="293.8" cy="414.4" r="1.95"/>
<circle cx="296.3" cy="414.5" r="1.95"/>
<circle cx="298.8" cy="414.6" r="1.95"/>
<circle cx="301.3" cy="414.7" r="1.95"/>
<circle cx="303.8" cy="414.8" r="1.95"/>
<circle cx="306.3" cy="414.9" r="1.95"/>
<circle cx="308.8" cy="414.9" r="1.95"/>
<circle cx="311.3" cy="415.0" r="1.95"/>
<circle cx="313.8" cy="415.1" r="1.95"/>
<circle cx="316.3" cy="415.1" r="1.95"/>
<circle cx="318.8" cy="415.2" r="1.95"/>
<circle cx="321.3" cy="415.2" r="1.95"/>
<circle cx="323.8" cy="415.3" r="1.95"/>
<circle cx="326.3" cy="415.3" r="1.95"/>
<circle cx="328.8" cy="415.4" r="1.95"/>
<circle cx="331.3" cy="415.4" r="1.95"/>
<circle cx="333.8" cy="415.4" r="1.95"/>
<circle cx="336.3" cy="415.5" r="1.95"/>
<circle cx="338.8" cy="415.5" r="1.95"/>
<circle cx="341.3" cy="415.5" r="1.95"/>
<circle cx="343.8" cy="415.5" r="1.95"/>
<circle cx="346.3" cy="415.5" r="1.95"/>
<circle cx="348.8" cy="415.5" r="1.95"/>
<circle cx="351.3" cy="415.5" r="1.95"/>
<circle cx="353.8" cy="415.6" r="1.95"/>
<circle cx="356.3" cy="415.6" r="1.95"/>
<circle cx="358.8" cy="415.6" r="1.95"/>
<circle cx="361.3" cy="415.6" r="1.95"/>
<circle cx="363.8" cy="415.6" r="1.95"/>
<circle cx="366.3" cy="415.6" r="1.95"/>
<circle cx="368.8" cy="415.6" r="1.95"/>
<circle cx="371.3" cy="415.6" r="1.95"/>
<circle cx="373.8" cy="415.6" r="1.95"/>
<circle cx="376.3" cy="415.6" r="1.95"/>
<circle cx="378.8" cy="415.6" r="1.95"/>
<circle cx="381.3" cy="415.7" r="1.95"/>
<circle cx="383.8" cy="415.7" r="1.95"/>
<circle cx="386.3" cy="415.7" r="1.95"/>
<circle cx="388.8" cy="415.7" r="1.95"/>
<circle cx="391.3" cy="415.7" r="1.95"/>
<circle cx="393.8" cy="415.7" r="1.95"/>
<circle cx="396.3" cy="415.7" r="1.95"/>
<circle cx="398.8" cy="415.7" r="1.95"/>
<circle cx="401.3" cy="415.7" r="1.95"/>
<circle cx="403.8" cy="415.7" r="1.95"/>
<circle cx="406.3" cy="415.7" r="1.95"/>
</g>
<rect x="43.3" y="22.6" width="371.6" height="399.6" fill="none" stroke="#000" stroke-width="3.2"/>
<text x="335.1" y="53.3" font-size="20" font-weight="bold" fill="#000" textLength="38.0" lengthAdjust="spacingAndGlyphs" stroke="#000" stroke-width="0.7" stroke-linejoin="round">1PA</text>
<text x="378.6" y="53.3" font-size="20" font-weight="bold" fill="#000" textLength="21.0" lengthAdjust="spacingAndGlyphs" stroke="#000" stroke-width="0.7" stroke-linejoin="round">PL</text>
<text x="351.3" y="97.9" font-size="27" font-weight="bold" fill="#000" textLength="32.7" lengthAdjust="spacingAndGlyphs" stroke="#000" stroke-width="0.7" stroke-linejoin="round">(a)</text>
<text x="121.0" y="234.2" font-size="20" font-weight="bold" fill="#000" textLength="21.0" lengthAdjust="spacingAndGlyphs" stroke="#000" stroke-width="0.7" stroke-linejoin="round">PL</text>
<text x="141.8" y="238.4" font-size="12.6" font-weight="bold" fill="#000" textLength="16.5" lengthAdjust="spacingAndGlyphs" stroke="#000" stroke-width="0.45" stroke-linejoin="round">FE</text>
<text x="207.0" y="373.2" font-size="20" font-weight="bold" fill="#000" textLength="21.6" lengthAdjust="spacingAndGlyphs" stroke="#000" stroke-width="0.7" stroke-linejoin="round">PL</text>
<text x="229.4" y="377.8" font-size="12.6" font-weight="bold" fill="#000" textLength="15.5" lengthAdjust="spacingAndGlyphs" stroke="#000" stroke-width="0.45" stroke-linejoin="round">CE</text>
<g transform="translate(19.7,317) rotate(-90)"><text x="0.0" y="0.0" font-size="23" font-weight="bold" fill="#000" textLength="190.0" lengthAdjust="spacingAndGlyphs" stroke="#000" stroke-width="0.4" stroke-linejoin="round">PL Intensity (a.u.)</text></g>
</g>
<g id="chartB">
<g clip-path="url(#cpIB)">
<rect x="52" y="450" width="153" height="132" fill="#010a01"/>
<polygon points="83.4,459.7 108.3,454.5 132.0,458.4 145.1,470.2 166.1,474.2 176.6,468.9 183.2,472.8 184.5,492.5 197.6,529.3 110.9,574.0 76.8,534.6 58.4,516.2 61.0,509.6 70.2,510.9 79.4,468.9" fill="#093c0a"/>
<g clip-path="url(#cpIBc)"><g filter="url(#blH)">
<ellipse cx="105" cy="533" rx="22" ry="12" fill="#4cf24c" opacity="1" transform="rotate(-20 105 533)"/>
<ellipse cx="146" cy="513" rx="24" ry="12" fill="#34d834" opacity="0.9" transform="rotate(-25 146 513)"/>
<ellipse cx="95" cy="486" rx="9" ry="22" fill="#2cc42c" opacity="0.85" transform="rotate(25 95 486)"/>
<ellipse cx="121" cy="488" rx="10" ry="20" fill="#1e9a1e" opacity="0.6" transform="rotate(-20 121 488)"/>
<ellipse cx="168" cy="494" rx="15" ry="17" fill="#041c04" opacity="0.9"/>
<ellipse cx="152" cy="550" rx="32" ry="9" fill="#052205" opacity="0.9" transform="rotate(-27 152 550)"/>
<ellipse cx="140" cy="468" rx="14" ry="8" fill="#062806" opacity="0.7"/>
</g></g>
<g clip-path="url(#cpIBc)"><rect x="20" y="420" width="220" height="200" filter="url(#txH)" transform="rotate(-22 128 515)"/></g>
<g filter="url(#blH2)">
<polygon points="83.4,459.7 108.3,454.5 132.0,458.4 145.1,470.2 166.1,474.2 176.6,468.9 183.2,472.8 184.5,492.5 197.6,529.3 110.9,574.0 76.8,534.6 58.4,516.2 61.0,509.6 70.2,510.9 79.4,468.9" fill="none" stroke="#2fc62f" stroke-width="1.3" stroke-linejoin="round"/>
<path d="M108,455 L122,490 L118,520 M84,460 L96,495 M70,511 L78,534 M80,538 L112,570" fill="none" stroke="#2ab82a" stroke-width="1.0" opacity="0.7"/>
</g>
</g>
<path d="M140.0,822.5 L140.0,821.6 L141.0,821.5 L142.0,821.3 L143.0,821.1 L144.0,820.8 L145.0,820.5 L146.0,820.2 L147.0,819.8 L148.0,819.4 L149.0,818.9 L150.0,818.4 L151.0,817.8 L152.0,817.1 L153.0,816.3 L154.0,815.4 L155.0,814.4 L156.0,813.4 L157.0,812.2 L158.0,810.8 L159.0,809.4 L160.0,807.8 L161.0,806.0 L162.0,804.1 L163.0,802.0 L164.0,799.7 L165.0,797.2 L166.0,794.6 L167.0,791.7 L168.0,788.7 L169.0,785.4 L170.0,781.9 L171.0,778.2 L172.0,774.4 L173.0,770.3 L174.0,766.0 L175.0,761.5 L176.0,756.8 L177.0,752.0 L178.0,747.0 L179.0,741.9 L180.0,736.6 L181.0,731.3 L182.0,725.8 L183.0,720.4 L184.0,714.8 L185.0,709.3 L186.0,703.8 L187.0,698.4 L188.0,693.1 L189.0,687.9 L190.0,682.8 L191.0,678.0 L192.0,673.3 L193.0,669.0 L194.0,664.9 L195.0,661.1 L196.0,657.7 L197.0,654.6 L198.0,651.9 L199.0,649.7 L200.0,647.8 L201.0,646.5 L202.0,645.5 L203.0,645.1 L204.0,645.0 L205.0,645.4 L206.0,646.2 L207.0,647.3 L208.0,648.8 L209.0,650.7 L210.0,652.9 L211.0,655.5 L212.0,658.3 L213.0,661.5 L214.0,665.0 L215.0,668.7 L216.0,672.6 L217.0,676.8 L218.0,681.1 L219.0,685.6 L220.0,690.3 L221.0,695.1 L222.0,699.9 L223.0,704.9 L224.0,709.8 L225.0,714.8 L226.0,719.8 L227.0,724.8 L228.0,729.8 L229.0,734.7 L230.0,739.5 L231.0,744.2 L232.0,748.8 L233.0,753.3 L234.0,757.6 L235.0,761.8 L236.0,765.9 L237.0,769.8 L238.0,773.5 L239.0,777.1 L240.0,780.5 L241.0,783.7 L242.0,786.8 L243.0,789.7 L244.0,792.4 L245.0,794.9 L246.0,797.3 L247.0,799.6 L248.0,801.7 L249.0,803.6 L250.0,805.4 L251.0,807.0 L252.0,808.6 L253.0,810.0 L254.0,811.2 L255.0,812.4 L256.0,813.5 L257.0,814.5 L258.0,815.4 L259.0,816.2 L260.0,816.9 L261.0,817.5 L262.0,818.1 L263.0,818.6 L264.0,819.1 L265.0,819.5 L266.0,819.9 L267.0,820.2 L268.0,820.5 L269.0,820.8 L270.0,821.0 L270.0,822.5 Z" fill="#b9c9ff"/>
<path d="M150.0,822.5 L150.0,819.1 L151.0,818.9 L152.0,818.6 L153.0,818.4 L154.0,818.2 L155.0,817.9 L156.0,817.6 L157.0,817.4 L158.0,817.1 L159.0,816.8 L160.0,816.5 L161.0,816.1 L162.0,815.8 L163.0,815.4 L164.0,815.0 L165.0,814.6 L166.0,814.2 L167.0,813.8 L168.0,813.4 L169.0,812.9 L170.0,812.5 L171.0,812.0 L172.0,811.5 L173.0,811.0 L174.0,810.4 L175.0,809.9 L176.0,809.3 L177.0,808.7 L178.0,808.1 L179.0,807.5 L180.0,806.9 L181.0,806.2 L182.0,805.5 L183.0,804.9 L184.0,804.2 L185.0,803.4 L186.0,802.7 L187.0,801.9 L188.0,801.2 L189.0,800.4 L190.0,799.6 L191.0,798.8 L192.0,798.0 L193.0,797.1 L194.0,796.3 L195.0,795.4 L196.0,794.6 L197.0,793.7 L198.0,792.8 L199.0,791.9 L200.0,791.0 L201.0,790.1 L202.0,789.2 L203.0,788.3 L204.0,787.4 L205.0,786.4 L206.0,785.5 L207.0,784.6 L208.0,783.7 L209.0,782.7 L210.0,781.8 L211.0,780.9 L212.0,780.0 L213.0,779.1 L214.0,778.2 L215.0,777.3 L216.0,776.5 L217.0,775.6 L218.0,774.8 L219.0,773.9 L220.0,773.1 L221.0,772.3 L222.0,771.5 L223.0,770.8 L224.0,770.1 L225.0,769.4 L226.0,768.7 L227.0,768.0 L228.0,767.4 L229.0,766.8 L230.0,766.2 L231.0,765.6 L232.0,765.1 L233.0,764.6 L234.0,764.2 L235.0,763.8 L236.0,763.4 L237.0,763.0 L238.0,762.7 L239.0,762.4 L240.0,762.2 L241.0,762.0 L242.0,761.8 L243.0,761.7 L244.0,761.6 L245.0,761.5 L246.0,761.5 L247.0,761.5 L248.0,761.6 L249.0,761.7 L250.0,761.8 L251.0,762.0 L252.0,762.2 L253.0,762.5 L254.0,762.8 L255.0,763.1 L256.0,763.5 L257.0,763.9 L258.0,764.3 L259.0,764.8 L260.0,765.3 L261.0,765.8 L262.0,766.4 L263.0,767.0 L264.0,767.7 L265.0,768.3 L266.0,769.0 L267.0,769.7 L268.0,770.5 L269.0,771.2 L270.0,772.0 L271.0,772.8 L272.0,773.7 L273.0,774.5 L274.0,775.4 L275.0,776.2 L276.0,777.1 L277.0,778.0 L278.0,778.9 L279.0,779.9 L280.0,780.8 L281.0,781.7 L282.0,782.7 L283.0,783.6 L284.0,784.6 L285.0,785.5 L286.0,786.5 L287.0,787.4 L288.0,788.3 L289.0,789.3 L290.0,790.2 L291.0,791.2 L292.0,792.1 L293.0,793.0 L294.0,793.9 L295.0,794.8 L296.0,795.7 L297.0,796.6 L298.0,797.4 L299.0,798.3 L300.0,799.1 L301.0,799.9 L302.0,800.7 L303.0,801.5 L304.0,802.3 L305.0,803.1 L306.0,803.8 L307.0,804.5 L308.0,805.3 L309.0,806.0 L310.0,806.6 L311.0,807.3 L312.0,807.9 L313.0,808.6 L314.0,809.2 L315.0,809.7 L316.0,810.3 L317.0,810.9 L318.0,811.4 L319.0,811.9 L320.0,812.4 L321.0,812.9 L322.0,813.4 L323.0,813.8 L324.0,814.2 L325.0,814.7 L326.0,815.1 L327.0,815.4 L328.0,815.8 L329.0,816.2 L330.0,816.5 L331.0,816.8 L332.0,817.1 L333.0,817.4 L334.0,817.7 L335.0,818.0 L336.0,818.2 L337.0,818.5 L338.0,818.7 L339.0,818.9 L340.0,819.2 L341.0,819.4 L342.0,819.6 L343.0,819.7 L344.0,819.9 L345.0,820.1 L346.0,820.2 L347.0,820.4 L348.0,820.5 L349.0,820.6 L350.0,820.8 L351.0,820.9 L352.0,821.0 L353.0,821.1 L354.0,821.2 L355.0,821.3 L356.0,821.4 L357.0,821.4 L358.0,821.5 L359.0,821.6 L360.0,821.6 L361.0,821.7 L362.0,821.8 L363.0,821.8 L364.0,821.9 L365.0,821.9 L366.0,822.0 L367.0,822.0 L368.0,822.0 L369.0,822.1 L370.0,822.1 L371.0,822.1 L372.0,822.2 L372.0,822.5 Z" fill="#c8c8c8"/>
<path d="M120.0,822.5 L120.0,822.4 L121.0,822.3 L122.0,822.3 L123.0,822.2 L124.0,822.1 L125.0,821.9 L126.0,821.7 L127.0,821.4 L128.0,821.1 L129.0,820.7 L130.0,820.3 L131.0,819.7 L132.0,819.1 L133.0,818.4 L134.0,817.6 L135.0,816.8 L136.0,816.0 L137.0,815.1 L138.0,814.2 L139.0,813.4 L140.0,812.7 L141.0,812.0 L142.0,811.5 L143.0,811.2 L144.0,811.0 L145.0,811.0 L146.0,811.2 L147.0,811.5 L148.0,812.0 L149.0,812.7 L150.0,813.4 L151.0,814.2 L152.0,815.1 L153.0,816.0 L154.0,816.8 L155.0,817.6 L156.0,818.4 L157.0,819.1 L158.0,819.7 L159.0,820.3 L160.0,820.7 L161.0,821.1 L162.0,821.4 L163.0,821.7 L164.0,821.9 L165.0,822.1 L166.0,822.2 L167.0,822.3 L168.0,822.3 L169.0,822.4 L170.0,822.4 L170.0,822.5 Z" fill="#ff8080"/>
<g fill="none" stroke="#e2347c" stroke-width="0.9">
<circle cx="50.5" cy="817.4" r="2.3"/>
<circle cx="52.2" cy="819.8" r="2.3"/>
<circle cx="55.8" cy="815.2" r="2.3"/>
<circle cx="60.8" cy="817.5" r="2.3"/>
<circle cx="63.0" cy="820.5" r="2.3"/>
<circle cx="66.7" cy="819.0" r="2.3"/>
<circle cx="70.4" cy="812.8" r="2.3"/>
<circle cx="74.3" cy="820.5" r="2.3"/>
<circle cx="79.0" cy="812.7" r="2.3"/>
<circle cx="82.1" cy="812.6" r="2.3"/>
<circle cx="87.1" cy="819.2" r="2.3"/>
<circle cx="88.9" cy="818.0" r="2.3"/>
<circle cx="92.6" cy="819.2" r="2.3"/>
<circle cx="97.8" cy="819.4" r="2.3"/>
<circle cx="100.8" cy="819.9" r="2.3"/>
<circle cx="103.6" cy="820.5" r="2.3"/>
<circle cx="106.2" cy="816.8" r="2.3"/>
<circle cx="110.3" cy="817.3" r="2.3"/>
<circle cx="114.2" cy="815.9" r="2.3"/>
<circle cx="118.7" cy="813.6" r="2.3"/>
<circle cx="122.9" cy="812.8" r="2.3"/>
<circle cx="126.2" cy="814.9" r="2.3"/>
<circle cx="129.3" cy="812.3" r="2.3"/>
<circle cx="134.0" cy="814.0" r="2.3"/>
<circle cx="137.9" cy="806.0" r="2.3"/>
<circle cx="138.8" cy="801.0" r="2.3"/>
<circle cx="142.5" cy="797.2" r="2.3"/>
<circle cx="147.2" cy="804.9" r="2.3"/>
<circle cx="151.6" cy="807.1" r="2.3"/>
<circle cx="153.4" cy="802.7" r="2.3"/>
<circle cx="156.2" cy="802.4" r="2.3"/>
<circle cx="158.3" cy="795.4" r="2.3"/>
<circle cx="161.5" cy="790.2" r="2.3"/>
<circle cx="164.2" cy="786.8" r="2.3"/>
<circle cx="163.8" cy="776.6" r="2.3"/>
<circle cx="168.2" cy="776.6" r="2.3"/>
<circle cx="171.0" cy="758.5" r="2.3"/>
<circle cx="171.7" cy="746.3" r="2.3"/>
<circle cx="173.3" cy="742.8" r="2.3"/>
<circle cx="177.1" cy="742.1" r="2.3"/>
<circle cx="178.2" cy="725.8" r="2.3"/>
<circle cx="182.9" cy="711.9" r="2.3"/>
<circle cx="184.1" cy="696.2" r="2.3"/>
<circle cx="188.0" cy="680.1" r="2.3"/>
<circle cx="189.4" cy="666.7" r="2.3"/>
<circle cx="192.8" cy="648.8" r="2.3"/>
<circle cx="193.3" cy="638.7" r="2.3"/>
<circle cx="196.1" cy="604.2" r="2.3"/>
<circle cx="200.3" cy="599.8" r="2.3"/>
<circle cx="200.1" cy="621.4" r="2.3"/>
<circle cx="202.7" cy="605.7" r="2.3"/>
<circle cx="206.0" cy="607.6" r="2.3"/>
<circle cx="206.8" cy="597.1" r="2.3"/>
<circle cx="210.5" cy="604.4" r="2.3"/>
<circle cx="214.6" cy="607.2" r="2.3"/>
<circle cx="216.2" cy="632.2" r="2.3"/>
<circle cx="218.6" cy="622.0" r="2.3"/>
<circle cx="219.0" cy="643.6" r="2.3"/>
<circle cx="224.0" cy="667.1" r="2.3"/>
<circle cx="226.2" cy="659.1" r="2.3"/>
<circle cx="226.3" cy="671.7" r="2.3"/>
<circle cx="230.4" cy="692.1" r="2.3"/>
<circle cx="231.5" cy="699.4" r="2.3"/>
<circle cx="233.7" cy="706.3" r="2.3"/>
<circle cx="235.6" cy="711.6" r="2.3"/>
<circle cx="238.5" cy="721.3" r="2.3"/>
<circle cx="240.5" cy="730.7" r="2.3"/>
<circle cx="245.6" cy="735.4" r="2.3"/>
<circle cx="246.0" cy="735.0" r="2.3"/>
<circle cx="248.7" cy="739.4" r="2.3"/>
<circle cx="252.7" cy="743.0" r="2.3"/>
<circle cx="255.6" cy="749.9" r="2.3"/>
<circle cx="255.1" cy="744.8" r="2.3"/>
<circle cx="257.5" cy="754.5" r="2.3"/>
<circle cx="262.3" cy="753.5" r="2.3"/>
<circle cx="262.5" cy="761.0" r="2.3"/>
<circle cx="266.1" cy="771.6" r="2.3"/>
<circle cx="267.3" cy="763.2" r="2.3"/>
<circle cx="270.9" cy="762.5" r="2.3"/>
<circle cx="274.7" cy="765.5" r="2.3"/>
<circle cx="274.8" cy="772.9" r="2.3"/>
<circle cx="277.6" cy="765.1" r="2.3"/>
<circle cx="280.5" cy="776.8" r="2.3"/>
<circle cx="283.7" cy="782.0" r="2.3"/>
<circle cx="286.2" cy="776.3" r="2.3"/>
<circle cx="289.2" cy="782.9" r="2.3"/>
<circle cx="291.0" cy="787.3" r="2.3"/>
<circle cx="293.2" cy="779.1" r="2.3"/>
<circle cx="294.3" cy="788.4" r="2.3"/>
<circle cx="295.7" cy="795.0" r="2.3"/>
<circle cx="298.8" cy="795.6" r="2.3"/>
<circle cx="302.6" cy="795.2" r="2.3"/>
<circle cx="307.0" cy="801.7" r="2.3"/>
<circle cx="310.8" cy="799.5" r="2.3"/>
<circle cx="311.9" cy="806.6" r="2.3"/>
<circle cx="315.5" cy="804.7" r="2.3"/>
<circle cx="320.4" cy="808.6" r="2.3"/>
<circle cx="324.9" cy="812.0" r="2.3"/>
<circle cx="327.7" cy="813.6" r="2.3"/>
<circle cx="331.8" cy="809.6" r="2.3"/>
<circle cx="335.7" cy="818.2" r="2.3"/>
<circle cx="338.9" cy="817.2" r="2.3"/>
<circle cx="340.6" cy="815.6" r="2.3"/>
<circle cx="346.1" cy="812.6" r="2.3"/>
<circle cx="350.3" cy="814.0" r="2.3"/>
<circle cx="352.1" cy="820.5" r="2.3"/>
<circle cx="356.7" cy="811.2" r="2.3"/>
<circle cx="358.5" cy="820.5" r="2.3"/>
<circle cx="364.5" cy="819.2" r="2.3"/>
<circle cx="367.8" cy="819.4" r="2.3"/>
<circle cx="371.9" cy="820.5" r="2.3"/>
<circle cx="374.5" cy="820.5" r="2.3"/>
<circle cx="376.4" cy="815.9" r="2.3"/>
<circle cx="379.6" cy="820.5" r="2.3"/>
<circle cx="384.9" cy="820.5" r="2.3"/>
<circle cx="389.8" cy="817.7" r="2.3"/>
<circle cx="393.0" cy="812.7" r="2.3"/>
<circle cx="394.7" cy="820.5" r="2.3"/>
<circle cx="398.4" cy="818.7" r="2.3"/>
<circle cx="403.1" cy="820.5" r="2.3"/>
<circle cx="405.2" cy="818.7" r="2.3"/>
</g>
<path d="M88.9,822.0 C91.6,822.0 100.5,822.0 105.0,821.8 C109.5,821.6 113.0,821.5 116.0,821.0 C119.0,820.5 120.8,819.8 123.0,819.0 C125.2,818.2 127.4,817.2 129.2,816.1 C131.0,815.0 132.3,813.8 134.0,812.5 C135.7,811.2 137.2,809.5 139.1,808.5 C141.0,807.5 143.9,806.6 145.7,806.2 C147.5,805.8 148.6,806.2 150.0,806.0 C151.4,805.8 152.8,805.8 154.0,805.2 C155.2,804.6 156.4,803.7 157.5,802.5 C158.6,801.3 159.5,799.9 160.6,797.9 C161.7,795.9 162.9,793.2 164.0,790.5 C165.1,787.8 166.1,784.7 167.2,781.4 C168.3,778.1 169.4,774.4 170.5,770.5 C171.6,766.6 172.7,762.9 173.8,758.3 C174.9,753.7 175.9,748.5 177.0,743.0 C178.1,737.5 179.0,733.8 180.4,725.3 C181.8,716.8 183.8,703.2 185.4,692.2 C187.1,681.2 188.7,669.1 190.3,659.2 C192.0,649.3 193.7,640.0 195.3,632.8 C197.0,625.6 198.5,620.1 200.2,616.2 C201.9,612.3 203.8,609.7 205.5,609.4 C207.2,609.1 208.5,611.2 210.1,614.6 C211.7,618.0 213.5,623.7 215.1,629.5 C216.7,635.3 217.9,641.0 219.8,649.3 C221.7,657.5 224.2,669.6 226.4,679.0 C228.6,688.4 230.8,697.7 233.0,705.4 C235.2,713.1 237.4,719.2 239.6,725.3 C241.8,731.4 244.1,737.4 246.3,741.8 C248.5,746.2 250.4,748.6 252.9,751.7 C255.4,754.8 258.4,758.0 261.1,760.6 C263.9,763.2 266.4,764.6 269.4,767.2 C272.4,769.9 276.0,773.3 279.3,776.5 C282.6,779.7 285.9,783.1 289.2,786.4 C292.5,789.7 295.8,793.3 299.1,796.3 C302.4,799.3 305.7,802.1 309.0,804.6 C312.3,807.1 315.6,809.3 318.9,811.2 C322.2,813.1 325.5,814.8 328.8,816.1 C332.1,817.4 334.8,818.0 338.7,818.8 C342.6,819.6 346.5,820.6 352.0,821.1 C357.5,821.6 362.4,821.7 371.8,822.0 C381.2,822.3 402.1,822.6 408.1,822.7" fill="none" stroke="#000" stroke-width="3.2" stroke-linejoin="round" stroke-linecap="butt"/>
<rect x="41.7" y="435.2" width="374" height="394.2" fill="none" stroke="#000" stroke-width="3.2"/>
<line x1="48.8" y1="830" x2="48.8" y2="841.5" stroke="#000" stroke-width="3"/>
<line x1="108.7" y1="830" x2="108.7" y2="835.5" stroke="#000" stroke-width="3"/>
<line x1="168.5" y1="830" x2="168.5" y2="841.5" stroke="#000" stroke-width="3"/>
<line x1="228.4" y1="830" x2="228.4" y2="835.5" stroke="#000" stroke-width="3"/>
<line x1="288.2" y1="830" x2="288.2" y2="841.5" stroke="#000" stroke-width="3"/>
<line x1="348.1" y1="830" x2="348.1" y2="835.5" stroke="#000" stroke-width="3"/>
<line x1="407.9" y1="830" x2="407.9" y2="841.5" stroke="#000" stroke-width="3"/>
<text x="29.0" y="866.8" font-size="23" font-weight="bold" fill="#000" textLength="39.0" lengthAdjust="spacingAndGlyphs" stroke="#000" stroke-width="0.4" stroke-linejoin="round">480</text>
<text x="149.4" y="866.8" font-size="23" font-weight="bold" fill="#000" textLength="39.0" lengthAdjust="spacingAndGlyphs" stroke="#000" stroke-width="0.4" stroke-linejoin="round">520</text>
<text x="269.1" y="866.8" font-size="23" font-weight="bold" fill="#000" textLength="39.0" lengthAdjust="spacingAndGlyphs" stroke="#000" stroke-width="0.4" stroke-linejoin="round">560</text>
<text x="388.8" y="866.8" font-size="23" font-weight="bold" fill="#000" textLength="39.0" lengthAdjust="spacingAndGlyphs" stroke="#000" stroke-width="0.4" stroke-linejoin="round">600</text>
<text x="133.2" y="899.9" font-size="23.5" font-weight="bold" fill="#000" textLength="189.8" lengthAdjust="spacingAndGlyphs" stroke="#000" stroke-width="0.4" stroke-linejoin="round">Wavelength (nm)</text>
<g transform="translate(27.4,725.9) rotate(-90)"><text x="0.0" y="0.0" font-size="23" font-weight="bold" fill="#000" textLength="190.8" lengthAdjust="spacingAndGlyphs" stroke="#000" stroke-width="0.4" stroke-linejoin="round">PL Intensity (a.u.)</text></g>
<text x="329.2" y="475.1" font-size="20" font-weight="bold" fill="#000" textLength="37.8" lengthAdjust="spacingAndGlyphs" stroke="#000" stroke-width="0.7" stroke-linejoin="round">2PA</text>
<text x="372.3" y="475.1" font-size="20" font-weight="bold" fill="#000" textLength="22.3" lengthAdjust="spacingAndGlyphs" stroke="#000" stroke-width="0.7" stroke-linejoin="round">PL</text>
<text x="349.5" y="520.2" font-size="27" font-weight="bold" fill="#000" textLength="34.3" lengthAdjust="spacingAndGlyphs" stroke="#000" stroke-width="0.7" stroke-linejoin="round">(b)</text>
<text x="206.8" y="600.7" font-size="20" font-weight="bold" fill="#000" textLength="21.5" lengthAdjust="spacingAndGlyphs" stroke="#000" stroke-width="0.7" stroke-linejoin="round">PL</text>
<text x="228.3" y="604.7" font-size="12.6" font-weight="bold" fill="#000" textLength="16.5" lengthAdjust="spacingAndGlyphs" stroke="#000" stroke-width="0.45" stroke-linejoin="round">CE</text>
<text x="107.7" y="782.0" font-size="20" font-weight="bold" fill="#000" textLength="21.5" lengthAdjust="spacingAndGlyphs" stroke="#000" stroke-width="0.7" stroke-linejoin="round">PL</text>
<text x="129.2" y="787.4" font-size="12.6" font-weight="bold" fill="#000" textLength="16.5" lengthAdjust="spacingAndGlyphs" stroke="#000" stroke-width="0.45" stroke-linejoin="round">FE</text>
<text x="277.6" y="758.3" font-size="20" font-weight="bold" fill="#000" textLength="21.5" lengthAdjust="spacingAndGlyphs" stroke="#000" stroke-width="0.7" stroke-linejoin="round">PL</text>
<text x="299.1" y="762.3" font-size="12.6" font-weight="bold" fill="#000" textLength="21.5" lengthAdjust="spacingAndGlyphs" stroke="#000" stroke-width="0.45" stroke-linejoin="round">def</text>
</g>
<g id="panels">
<!--BF-->
<g clip-path="url(#cpBF)">
<rect x="428" y="-1" width="159" height="140" fill="url(#gBFbg)"/>
<g filter="url(#blBF)">
<polygon points="459.3,20.8 466.7,17.6 482.5,14.5 502.4,16.6 509.8,26.0 522.4,32.3 535.0,30.2 542.4,25.0 549.7,28.1 550.8,44.9 558.1,66.0 563.4,78.6 556.0,84.9 486.7,119.6 474.0,110.1 458.3,87.0 450.9,76.5 438.3,68.1 439.4,61.8 449.9,61.8 453.0,38.6" fill="url(#gBFc)" stroke="#5a1c08" stroke-width="1.7" stroke-linejoin="round"/>
<polygon points="454.0,39.0 466.0,21.0 474.0,30.0 480.0,50.0 486.0,75.0 483.0,100.0 475.0,109.0 459.0,87.0 451.0,63.0" fill="#e4561a" opacity="0.9"/>
<polygon points="488.0,70.0 505.0,58.0 545.0,50.0 556.0,66.0 561.0,78.0 487.0,117.0 484.0,100.0" fill="#dc4812" opacity="0.75"/>
<polygon points="505.0,19.0 510.0,27.0 522.0,33.5 535.0,31.5 542.0,26.5 548.5,29.0 549.5,45.0 556.0,63.0 540.0,50.0 522.0,44.0 508.0,40.0" fill="#a83410" opacity="0.55"/>
<polygon points="468.0,19.0 482.5,15.5 502.0,17.5 508.0,27.0 508.0,40.0 498.0,50.0 486.0,56.0 480.0,40.0" fill="#c03c14" opacity="0.5"/>
</g>
<g filter="url(#blBF)">
<path d="M468,19 L476,36 L481,52 L486,66 L488,80" fill="none" stroke="#7c2a0e" stroke-width="2" opacity="0.85"/>
<path d="M488,80 L484,98 L478,108" fill="none" stroke="#a03812" stroke-width="1.4" opacity="0.6"/>
<path d="M492,55 L520,62 L540,44 M494,60 L521,67 L545,50 M498,50 L521,57 L536,41" fill="none" stroke="#f4783a" stroke-width="1.0" opacity="0.85"/>
<path d="M458.5,87 L474,110 L486.5,119.5" fill="none" stroke="#6a240c" stroke-width="1.4" opacity="0.85"/>
<path d="M440,63 L458,86" fill="none" stroke="#6a240c" stroke-width="1.3" opacity="0.85"/>
<path d="M459,21 L467,17.6 L482.5,14.5 L502,16.6 L509.8,26 L522,32.3 L535,30.2 L542.4,25 L549.7,28.1 L550.8,44.9" fill="none" stroke="#4a1606" stroke-width="1.6" opacity="0.8" stroke-linejoin="round"/>
<circle cx="512.5" cy="67.5" r="1.2" fill="#6a1a10"/><circle cx="514.5" cy="77.5" r="1.2" fill="#6a1a10"/>
</g>
<rect x="520" y="117.4" width="46.5" height="6.1" fill="#fff"/>
<text x="506.8" y="107.3" font-size="18.8" font-weight="bold" fill="#fff" textLength="67.5" lengthAdjust="spacingAndGlyphs" >100µm</text>
<text x="549.3" y="21.7" font-size="17.2" font-weight="bold" fill="#fff" textLength="23.2" lengthAdjust="spacingAndGlyphs" >BF</text>
</g>
<g clip-path="url(#cp2)"><g filter="url(#hf2)">
<rect x="388.8" y="103" width="237.5" height="217.5" fill="rgb(0,0,0)"/>
<g filter="url(#pb5)"><polygon points="458.2,178.3 476.0,177.5 499.0,175.7 511.8,185.9 532.2,189.8 541.1,185.9 545.0,198.7 553.9,224.2 545.0,234.4 476.0,258.7 460.7,247.2 453.1,224.2 440.3,214.0 444.1,206.4 453.1,203.8" fill="rgb(36,36,36)" stroke="rgb(36,36,36)" stroke-width="10" stroke-linejoin="round"/></g>
<g filter="url(#pb3_5)"><polygon points="458.2,178.3 476.0,177.5 499.0,175.7 511.8,185.9 532.2,189.8 541.1,185.9 545.0,198.7 553.9,224.2 545.0,234.4 476.0,258.7 460.7,247.2 453.1,224.2 440.3,214.0 444.1,206.4 453.1,203.8" fill="rgb(82,82,82)" /></g>
<g filter="url(#pb4)"><polygon points="460.7,242.1 476.0,253.6 509.2,243.4 546.2,228.1 551.3,214.0 545.5,199.2 527.1,200.7 496.5,216.1 470.9,231.4" fill="rgb(145,145,145)" /></g>
<g filter="url(#pb3)"><polygon points="474.8,239.5 486.3,244.6 538.6,226.3 545.0,214.0 540.4,203.8 527.1,205.3 501.6,221.2" fill="rgb(204,204,204)" /></g>
<g filter="url(#pb3)"><polygon points="513.1,223.7 517.4,227.5 535.8,221.4 539.1,214.0 535.8,207.9 525.1,209.4" fill="rgb(247,247,247)" /></g>
</g></g>
<g clip-path="url(#cp3)"><g filter="url(#hf3)">
<rect x="388.8" y="246" width="237.5" height="218.1" fill="rgb(0,0,0)"/>
<g filter="url(#pb6)"><polygon points="458.2,320.8 476.0,320.0 499.0,318.2 511.8,328.4 532.2,332.3 541.1,328.4 545.0,341.2 553.9,366.7 545.0,376.9 476.0,401.2 460.7,389.7 453.1,366.7 440.3,356.5 444.1,348.9 453.1,346.3" fill="rgb(5,5,5)" stroke="rgb(5,5,5)" stroke-width="10" stroke-linejoin="round"/></g>
<g filter="url(#pb5)"><polygon points="458.2,320.8 476.0,320.0 499.0,318.2 511.8,328.4 532.2,332.3 541.1,328.4 545.0,341.2 553.9,366.7 545.0,376.9 476.0,401.2 460.7,389.7 453.1,366.7 440.3,356.5 444.1,348.9 453.1,346.3" fill="rgb(11,11,11)" /></g>
<g filter="url(#pb4)"><polygon points="458.2,383.8 476.0,395.3 509.2,385.1 547.5,369.8 552.6,355.7 546.2,341.2 527.1,343.0 496.5,358.3 468.4,373.6" fill="rgb(26,26,26)" /></g>
<g filter="url(#pb3)"><polygon points="479.9,378.7 487.5,383.8 539.9,366.7 545.0,355.7 541.1,346.8 527.1,348.8 501.6,363.4" fill="rgb(38,38,38)" /></g>
<g filter="url(#pb2_5)"><polygon points="501.6,367.2 510.5,371.8 537.3,363.4 541.1,355.7 537.3,349.9 523.3,351.9" fill="rgb(48,48,48)" /></g>
</g></g>
<g clip-path="url(#cp4)"><g filter="url(#hf4)">
<rect x="390.6" y="393.8" width="234.7" height="226.8" fill="rgb(32,32,32)"/>
<g filter="url(#pb3)"><polygon points="455.6,455.5 473.5,447.9 514.3,453.0 524.5,470.8 545.0,473.4 552.6,481.0 557.7,501.5 564.1,514.2 547.5,532.1 488.8,555.1 460.7,544.9 453.1,516.8 435.2,504.0 437.8,493.8 453.1,488.7" fill="rgb(102,102,102)" stroke="rgb(102,102,102)" stroke-width="4" stroke-linejoin="round"/></g>
<g filter="url(#pb5)"><polygon points="463.3,539.7 488.8,552.5 545.0,532.1 561.5,514.2 555.2,483.6 537.3,475.9 509.2,496.4 468.4,519.3" fill="rgb(130,130,130)" /></g>
<g filter="url(#pb5)"><polygon points="468.4,534.6 488.8,544.9 542.4,527.0 557.7,511.7 550.1,488.7 534.7,486.2 501.6,511.7" fill="rgb(153,153,153)" /></g>
</g></g>
<g clip-path="url(#cp5)"><g filter="url(#hf5)">
<rect x="388.1" y="544.6" width="236.4" height="227.8" fill="rgb(0,0,0)"/>
<g filter="url(#pb5)"><polygon points="453.1,605.5 463.3,595.3 488.8,596.6 511.8,608.1 519.4,620.8 537.3,624.7 547.5,622.1 552.6,636.2 565.4,669.3 557.7,679.5 483.7,710.2 468.4,705.1 450.5,674.4 432.7,659.1 432.7,648.9 442.9,641.3 448.0,631.0" fill="rgb(41,41,41)" stroke="rgb(41,41,41)" stroke-width="7" stroke-linejoin="round"/></g>
<g filter="url(#pb4)"><polygon points="453.1,605.5 463.3,595.3 488.8,596.6 511.8,608.1 519.4,620.8 537.3,624.7 547.5,622.1 552.6,636.2 565.4,669.3 557.7,679.5 483.7,710.2 468.4,705.1 450.5,674.4 432.7,659.1 432.7,648.9 442.9,641.3 448.0,631.0" fill="rgb(128,128,128)" /></g>
<g filter="url(#pb5)"><polygon points="460.7,608.1 467.1,601.7 488.8,603.0 506.7,611.9 515.6,624.7 537.3,629.8 546.2,628.5 550.1,638.7 560.3,668.1 555.2,675.7 485.0,704.6 471.0,700.0 456.9,671.9 439.0,656.6 439.0,651.5 448.0,645.1 453.1,632.3" fill="rgb(140,140,140)" /></g>
<g filter="url(#pb4)"><ellipse cx="504" cy="638.7" rx="15" ry="8" fill="rgb(84,84,84)" transform="rotate(-20 504 638.7)" /></g>
<g filter="url(#pb5)"><polygon points="458.2,680.1 474.8,697.4 564.1,663.7 557.2,643.3" fill="rgb(204,204,204)" /></g>
<g filter="url(#pb3_5)"><polygon points="473.0,673.9 479.1,685.7 555.7,657.3 551.1,647.9" fill="rgb(255,255,255)" /></g>
<g filter="url(#pb2_5)"><ellipse cx="469.7" cy="607.8" rx="9" ry="4.5" fill="rgb(250,250,250)" transform="rotate(-8 469.7 607.8)" /></g>
<g filter="url(#pb2)"><ellipse cx="497.7" cy="613.2" rx="6.5" ry="4.2" fill="rgb(214,214,214)" transform="rotate(25 497.7 613.2)" /></g>
<g filter="url(#pb2)"><ellipse cx="442" cy="651.5" rx="6.5" ry="4.2" fill="rgb(209,209,209)" transform="rotate(-30 442 651.5)" /></g>
</g></g>
<g clip-path="url(#cp6)"><g filter="url(#hf6)">
<rect x="388.8" y="696.4" width="235.7" height="229.3" fill="rgb(0,0,0)"/>
<g filter="url(#pb5)"><polygon points="450.0,775.0 452.0,758.0 466.0,746.0 486.0,745.0 512.0,744.0 530.0,765.0 556.0,770.0 566.0,800.0 566.0,835.0 552.0,830.0 545.0,800.0 520.0,795.0 505.0,778.0 492.0,765.0 472.0,762.0 462.0,775.0" fill="rgb(22,22,22)" /></g>
<g filter="url(#pb3)"><polygon points="451.0,772.0 455.0,757.0 469.0,748.0 485.0,748.0 499.0,752.0 499.0,762.0 484.0,760.0 471.0,760.0 463.0,765.0 459.0,775.0" fill="rgb(38,38,38)" /></g>
<g filter="url(#pb3)"><ellipse cx="506.5" cy="758" rx="7.5" ry="12.5" fill="rgb(102,102,102)" transform="rotate(-25 506.5 758)" /></g>
<g filter="url(#pb2)"><ellipse cx="506" cy="756" rx="3.5" ry="6" fill="rgb(128,128,128)" transform="rotate(-25 506 756)" /></g>
<g filter="url(#pb3)"><ellipse cx="519" cy="774" rx="7" ry="12" fill="rgb(64,64,64)" transform="rotate(-45 519 774)" /></g>
<g filter="url(#pb3)"><ellipse cx="540" cy="783" rx="19" ry="10.5" fill="rgb(97,97,97)" transform="rotate(-12 540 783)" /></g>
<g filter="url(#pb2_5)"><ellipse cx="536" cy="786" rx="9" ry="5" fill="rgb(128,128,128)" transform="rotate(-10 536 786)" /></g>
<g filter="url(#pb3)"><ellipse cx="554" cy="806" rx="7" ry="21" fill="rgb(48,48,48)" transform="rotate(-12 554 806)" /></g>
<g filter="url(#pb3)"><ellipse cx="438" cy="800" rx="6.5" ry="13" fill="rgb(54,54,54)" transform="rotate(15 438 800)" /></g>
<g filter="url(#pb2_5)"><ellipse cx="466" cy="846" rx="14" ry="4" fill="rgb(33,33,33)" transform="rotate(40 466 846)" /></g>
<g filter="url(#pb2_5)"><ellipse cx="480" cy="860" rx="6" ry="4" fill="rgb(38,38,38)" transform="rotate(0 480 860)" /></g>
</g></g>
<text x="534.2" y="169.4" font-size="20.5" font-weight="bold" fill="#fff" textLength="21.0" lengthAdjust="spacingAndGlyphs" >PL</text>
<text x="555.2" y="174.5" font-size="12.3" font-weight="bold" fill="#fff" textLength="15.3" lengthAdjust="spacingAndGlyphs" >FE</text>
<text x="516.4" y="270.2" font-size="19.5" font-weight="bold" fill="#fff" textLength="67.4" lengthAdjust="spacingAndGlyphs" >515nm</text>
<text x="530.9" y="309.8" font-size="20.5" font-weight="bold" fill="#fff" textLength="21.7" lengthAdjust="spacingAndGlyphs" >PL</text>
<text x="552.6" y="313.6" font-size="12.3" font-weight="bold" fill="#fff" textLength="14.8" lengthAdjust="spacingAndGlyphs" >CE</text>
<text x="517.4" y="411.9" font-size="19.5" font-weight="bold" fill="#fff" textLength="67.9" lengthAdjust="spacingAndGlyphs" >532nm</text>
<text x="533.5" y="460.1" font-size="20.5" font-weight="bold" fill="#fff" textLength="21.2" lengthAdjust="spacingAndGlyphs" >PL</text>
<text x="554.7" y="465.2" font-size="12.3" font-weight="bold" fill="#fff" textLength="15.3" lengthAdjust="spacingAndGlyphs" >FE</text>
<text x="514.8" y="565.8" font-size="19.5" font-weight="bold" fill="#fff" textLength="67.9" lengthAdjust="spacingAndGlyphs" >515nm</text>
<text x="534.2" y="608.6" font-size="20.5" font-weight="bold" fill="#fff" textLength="21.0" lengthAdjust="spacingAndGlyphs" >PL</text>
<text x="555.2" y="613.2" font-size="12.3" font-weight="bold" fill="#fff" textLength="15.3" lengthAdjust="spacingAndGlyphs" >CE</text>
<text x="514.3" y="719.9" font-size="19.5" font-weight="bold" fill="#fff" textLength="67.7" lengthAdjust="spacingAndGlyphs" >532nm</text>
<text x="528.4" y="760.1" font-size="20.5" font-weight="bold" fill="#fff" textLength="21.7" lengthAdjust="spacingAndGlyphs" >PL</text>
<text x="550.1" y="765.2" font-size="12.3" font-weight="bold" fill="#fff" textLength="19.9" lengthAdjust="spacingAndGlyphs" >def</text>
<text x="509.7" y="872.9" font-size="19.5" font-weight="bold" fill="#fff" textLength="67.9" lengthAdjust="spacingAndGlyphs" >550nm</text>
<rect x="594.4" y="220.6" width="15.1" height="132.9" fill="url(#rb)"/>
<rect x="594.4" y="220.6" width="15.1" height="132.9" fill="none" stroke="#3c2424" stroke-width="0.9" opacity="0.85"/>
<line x1="609.5" y1="271.6" x2="617.1" y2="271.6" stroke="#2a2a2a" stroke-width="1.3"/>
<line x1="609.5" y1="351.8" x2="617.1" y2="351.8" stroke="#2a2a2a" stroke-width="1.3"/>
<text x="629.9" y="275.9" font-size="14.3" font-weight="bold" fill="#000" textLength="34.7" lengthAdjust="spacingAndGlyphs" stroke="#000" stroke-width="0.45" stroke-linejoin="round">2000</text>
<text x="630.4" y="356.9" font-size="14.3" font-weight="bold" fill="#000" textLength="9.1" lengthAdjust="spacingAndGlyphs" stroke="#000" stroke-width="0.45" stroke-linejoin="round">0</text>
<rect x="593.2" y="439" width="16" height="135.6" fill="url(#rb)"/>
<rect x="593.2" y="572.4" width="16" height="2.2" fill="#a874d6"/>
<rect x="593.2" y="439" width="16" height="135.6" fill="none" stroke="#3c2424" stroke-width="0.9" opacity="0.85"/>
<line x1="609.2" y1="452" x2="616.8000000000001" y2="452" stroke="#2a2a2a" stroke-width="1.3"/>
<line x1="609.2" y1="512.9" x2="616.8000000000001" y2="512.9" stroke="#2a2a2a" stroke-width="1.3"/>
<line x1="609.2" y1="572.8" x2="616.8000000000001" y2="572.8" stroke="#2a2a2a" stroke-width="1.3"/>
<text x="630.2" y="459.2" font-size="14.3" font-weight="bold" fill="#000" textLength="17.6" lengthAdjust="spacingAndGlyphs" stroke="#000" stroke-width="0.45" stroke-linejoin="round">20</text>
<text x="633.3" y="519.2" font-size="14.3" font-weight="bold" fill="#000" textLength="16.0" lengthAdjust="spacingAndGlyphs" stroke="#000" stroke-width="0.45" stroke-linejoin="round">10</text>
<text x="631.9" y="573.5" font-size="14.3" font-weight="bold" fill="#000" textLength="8.9" lengthAdjust="spacingAndGlyphs" stroke="#000" stroke-width="0.45" stroke-linejoin="round">0</text>
<rect x="593.4" y="590.2" width="16.1" height="133.8" fill="url(#rb)"/>
<rect x="593.4" y="721.8" width="16.1" height="2.2" fill="#a874d6"/>
<rect x="593.4" y="590.2" width="16.1" height="133.8" fill="none" stroke="#3c2424" stroke-width="0.9" opacity="0.85"/>
<line x1="609.5" y1="645.4" x2="617.1" y2="645.4" stroke="#2a2a2a" stroke-width="1.3"/>
<line x1="609.5" y1="722.2" x2="617.1" y2="722.2" stroke="#2a2a2a" stroke-width="1.3"/>
<text x="631.0" y="655.6" font-size="14.3" font-weight="bold" fill="#000" textLength="25.7" lengthAdjust="spacingAndGlyphs" stroke="#000" stroke-width="0.45" stroke-linejoin="round">200</text>
<text x="632.8" y="724.0" font-size="14.3" font-weight="bold" fill="#000" textLength="8.9" lengthAdjust="spacingAndGlyphs" stroke="#000" stroke-width="0.45" stroke-linejoin="round">0</text>
<rect x="593.1" y="745.6" width="17.1" height="136.9" fill="url(#rb)"/>
<rect x="593.1" y="880.3" width="17.1" height="2.2" fill="#a874d6"/>
<rect x="593.1" y="745.6" width="17.1" height="136.9" fill="none" stroke="#3c2424" stroke-width="0.9" opacity="0.85"/>
<line x1="610.2" y1="790.8" x2="617.8000000000001" y2="790.8" stroke="#2a2a2a" stroke-width="1.3"/>
<line x1="610.2" y1="881.1" x2="617.8000000000001" y2="881.1" stroke="#2a2a2a" stroke-width="1.3"/>
<text x="633.3" y="803.0" font-size="14.3" font-weight="bold" fill="#000" textLength="16.7" lengthAdjust="spacingAndGlyphs" stroke="#000" stroke-width="0.45" stroke-linejoin="round">12</text>
<text x="634.6" y="883.1" font-size="14.3" font-weight="bold" fill="#000" textLength="8.8" lengthAdjust="spacingAndGlyphs" stroke="#000" stroke-width="0.45" stroke-linejoin="round">0</text>
</g>
</svg></body></html>
